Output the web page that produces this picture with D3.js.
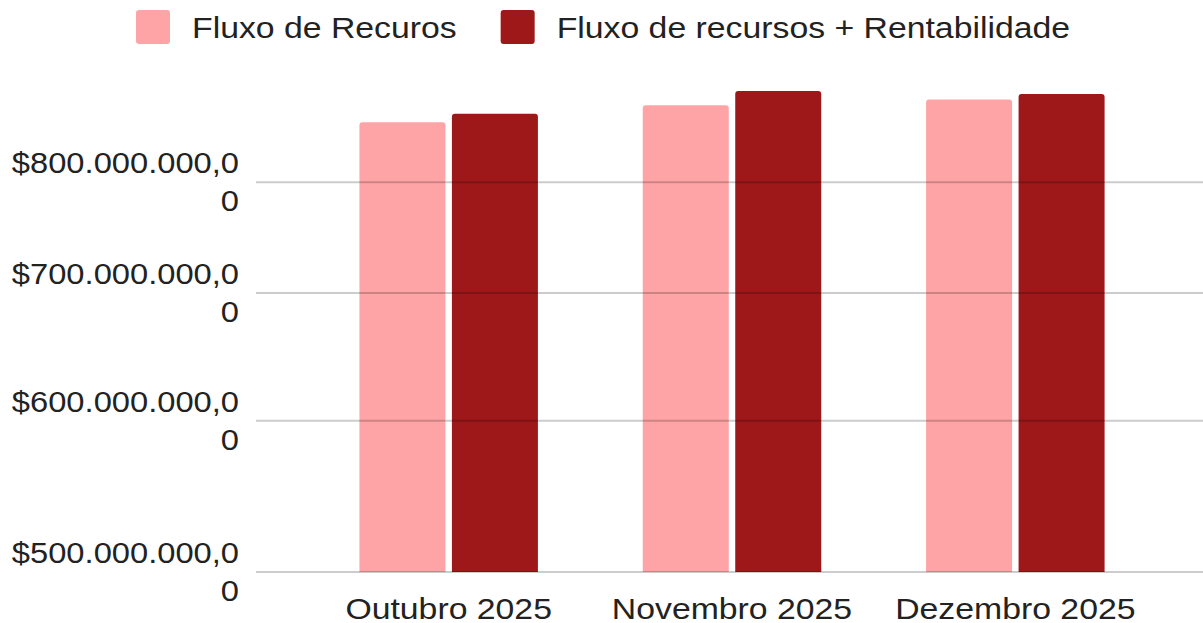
<!DOCTYPE html>
<html>
<head>
<meta charset="utf-8">
<script src="https://cdn.jsdelivr.net/npm/d3@7"></script>
<style>
  html, body { margin: 0; padding: 0; background: #fff; }
  svg { display: block; }
  text { font-family: "Liberation Sans", Arial, sans-serif; fill: #222; }
</style>
</head>
<body>
<svg id="chart" width="1203" height="623"></svg>
<script>
// ---- data ----
const categories = ["Outubro 2025", "Novembro 2025", "Dezembro 2025"];
const seriesNames = ["Fluxo de Recuros", "Fluxo de recursos + Rentabilidade"];
const fluxoRecursos = [860e6, 878e6, 884e6];
const fluxoRentabilidade = [869e6, 893e6, 890e6];
const seriesColors = ["#ffa4a6", "#9e181a"];
const tickValues = [5e8, 6e8, 7e8, 8e8];
const tickLabels = [
  ["$500.000.000,0", "0"],
  ["$600.000.000,0", "0"],
  ["$700.000.000,0", "0"],
  ["$800.000.000,0", "0"]
];

// ---- layout ----
const W = 1203, H = 623;
const FS = 29.5;
const svg = d3.select("#chart");

const y = d3.scaleLog().domain([5e8, 8e8]).range([572, 182.3]);
const x0 = d3.scaleBand().domain(categories).range([307, 1157]).paddingInner(0.37).paddingOuter(0.185);
const x1 = d3.scaleBand().domain(seriesNames).range([0, x0.bandwidth()]).paddingInner(0.07);

function addText(g, str, x, yy, anchor, sx) {
  return g.append("text")
    .attr("transform", `translate(${x},${yy}) scale(${sx},1)`)
    .attr("text-anchor", anchor)
    .style("font-size", FS + "px")
    .text(str);
}

// rounded-top bar path
function barPath(x, yTop, w, yBottom, r) {
  r = Math.min(r, w / 2, (yBottom - yTop));
  return `M${x},${yBottom}V${yTop + r}Q${x},${yTop} ${x + r},${yTop}H${x + w - r}Q${x + w},${yTop} ${x + w},${yTop + r}V${yBottom}Z`;
}

// ---- bars ----
const rows = categories.map((c, i) => ({ cat: c, vals: [fluxoRecursos[i], fluxoRentabilidade[i]] }));
const gBars = svg.append("g");
rows.forEach(row => {
  row.vals.forEach((v, j) => {
    const bx = x0(row.cat) + x1(seriesNames[j]);
    gBars.append("path")
      .attr("d", barPath(bx, y(v), x1.bandwidth(), y(5e8), 3))
      .attr("fill", seriesColors[j]);
  });
});

// ---- gridlines (drawn over bars, semi-transparent) ----
const gGrid = svg.append("g");
tickValues.forEach(t => {
  gGrid.append("line")
    .attr("x1", 256).attr("x2", W)
    .attr("y1", y(t)).attr("y2", y(t))
    .attr("stroke", "rgba(0,0,0,0.2)")
    .attr("stroke-width", 2);
});

// ---- y axis labels ----
const gY = svg.append("g");
tickValues.forEach((t, i) => {
  addText(gY, tickLabels[i][0], 239, y(t) - 9, "end", 1.108);
  addText(gY, tickLabels[i][1], 239, y(t) + 29, "end", 1.108);
});

// ---- x axis labels ----
const gX = svg.append("g");
categories.forEach(c => {
  addText(gX, c, x0(c) + x0.bandwidth() / 2, 618.5, "middle", 1.145);
});

// ---- legend ----
const gL = svg.append("g");
let lx = 136;
seriesNames.forEach((s, j) => {
  gL.append("rect")
    .attr("x", lx).attr("y", 10).attr("width", 34).attr("height", 34)
    .attr("rx", 3).attr("fill", seriesColors[j]);
  const t = addText(gL, s, lx + 56, 37.5, "start", 1.145);
  const w = t.node().getComputedTextLength() * 1.145;
  lx = lx + 56 + w + 44;
});
</script>
</body>
</html>
